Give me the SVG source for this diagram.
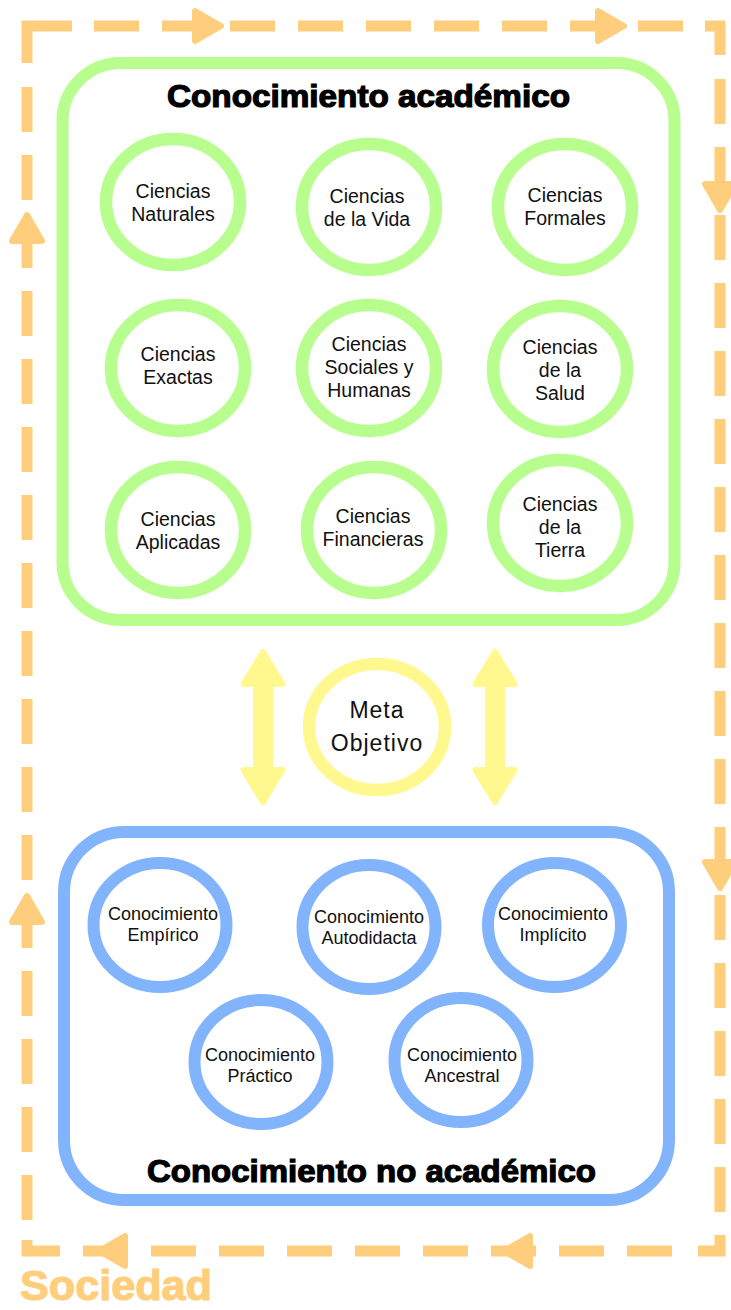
<svg xmlns="http://www.w3.org/2000/svg" xmlns:xlink="http://www.w3.org/1999/xlink" width="731" height="1310" viewBox="0 0 731 1310">
  <style>
    .bg{fill:#ffffff}
    .gbox{fill:none;stroke:#B7FE8F;stroke-width:12}
    .bbox{fill:none;stroke:#82B4FE;stroke-width:12}
    .gc{fill:#ffffff;stroke:#B7FE8F;stroke-width:12.5}
    .bc{fill:#ffffff;stroke:#82B4FE;stroke-width:12}
    .yc{fill:#ffffff;stroke:#FFF88E;stroke-width:12.5}
    .dash{fill:none;stroke:#FFCE7C;stroke-width:11;stroke-dasharray:45 23}
    .corner{fill:none;stroke:#FFCE7C;stroke-width:11;stroke-linejoin:miter}
    .yarrow{fill:#FFF88E;stroke:#FFF88E;stroke-width:6;stroke-linejoin:round}
    .lbl{font-family:"Liberation Sans",Arial,sans-serif;font-size:19.5px;fill:#111111;text-anchor:middle}
    .blbl{font-family:"Liberation Sans",Arial,sans-serif;font-size:18px;fill:#111111;text-anchor:middle}
    .meta{font-family:"Liberation Sans",Arial,sans-serif;font-size:23px;fill:#111111;text-anchor:middle;letter-spacing:1px}
    .title{font-family:"Liberation Sans",Arial,sans-serif;font-weight:bold;font-size:31px;fill:#000000;stroke:#000000;stroke-width:1.2;text-anchor:middle}
    .soc{font-family:"Liberation Sans",Arial,sans-serif;font-weight:bold;font-size:43px;fill:#FFCE7C;stroke:#FFCE7C;stroke-width:1.2}
  </style>
  <defs>
    <path id="oh" d="M-29,-15 L-3,0 L-29,15 Z" fill="#FFCE7C" stroke="#FFCE7C" stroke-width="6" stroke-linejoin="round"/>
  </defs>
  <rect class="bg" x="0" y="0" width="731" height="1310"/>

  <g id="connectors">
    <path class="dash" d="M94,26 H683"/>
    <path class="dash" d="M720,79 V1212"/>
    <path class="dash" d="M672,1251 H83"/>
    <path class="dash" d="M27,87 V1220"/>
    <path class="corner" d="M27,63 V26 H72"/>
    <path class="corner" d="M705,26 H720 V55"/>
    <path class="corner" d="M720,1235 V1251 H698"/>
    <path class="corner" d="M60,1251 H27 V1240"/>
    <use xlink:href="#oh" href="#oh" transform="translate(224,26)"/>
    <use xlink:href="#oh" href="#oh" transform="translate(627,26)"/>
    <use xlink:href="#oh" href="#oh" transform="translate(720,213) rotate(90)"/>
    <use xlink:href="#oh" href="#oh" transform="translate(720,891) rotate(90)"/>
    <use xlink:href="#oh" href="#oh" transform="translate(501,1251) rotate(180)"/>
    <use xlink:href="#oh" href="#oh" transform="translate(96,1251) rotate(180)"/>
    <use xlink:href="#oh" href="#oh" transform="translate(27,893) rotate(-90)"/>
    <use xlink:href="#oh" href="#oh" transform="translate(27,212) rotate(-90)"/>
    <polygon class="yarrow" points="263,652 282.5,684 270,684 270,770 282.5,770 263,802 243.5,770 256,770 256,684 243.5,684"/>
    <polygon class="yarrow" points="495,652 514.5,684 502,684 502,770 514.5,770 495,802 475.5,770 488,770 488,684 475.5,684"/>
  </g>

  <g id="academico">
    <rect class="gbox" x="62.5" y="63" width="612" height="557" rx="58" ry="58"/>
    <text class="title" x="368.5" y="107" textLength="403" lengthAdjust="spacingAndGlyphs">Conocimiento académico</text>
  </g>

  <g id="n-naturales"><ellipse class="gc" cx="173" cy="202" rx="67" ry="63"/>
    <text class="lbl" x="173" y="198">Ciencias</text><text class="lbl" x="173" y="221">Naturales</text></g>
  <g id="n-vida"><ellipse class="gc" cx="369" cy="207" rx="67" ry="63"/>
    <text class="lbl" x="367" y="203">Ciencias</text><text class="lbl" x="367" y="226">de la Vida</text></g>
  <g id="n-formales"><ellipse class="gc" cx="565" cy="207" rx="67" ry="63"/>
    <text class="lbl" x="565" y="202">Ciencias</text><text class="lbl" x="565" y="225">Formales</text></g>

  <g id="n-exactas"><ellipse class="gc" cx="178" cy="368" rx="67" ry="63"/>
    <text class="lbl" x="178" y="361">Ciencias</text><text class="lbl" x="178" y="384">Exactas</text></g>
  <g id="n-sociales"><ellipse class="gc" cx="369" cy="368" rx="67" ry="63"/>
    <text class="lbl" x="369" y="351">Ciencias</text><text class="lbl" x="369" y="374">Sociales y</text><text class="lbl" x="369" y="397">Humanas</text></g>
  <g id="n-salud"><ellipse class="gc" cx="560" cy="369" rx="67" ry="63"/>
    <text class="lbl" x="560" y="354">Ciencias</text><text class="lbl" x="560" y="377">de la</text><text class="lbl" x="560" y="400">Salud</text></g>

  <g id="n-aplicadas"><ellipse class="gc" cx="178" cy="530" rx="67" ry="63"/>
    <text class="lbl" x="178" y="526">Ciencias</text><text class="lbl" x="178" y="549">Aplicadas</text></g>
  <g id="n-financieras"><ellipse class="gc" cx="374" cy="530" rx="67" ry="63"/>
    <text class="lbl" x="373" y="523">Ciencias</text><text class="lbl" x="373" y="546">Financieras</text></g>
  <g id="n-tierra"><ellipse class="gc" cx="560" cy="523" rx="67" ry="63"/>
    <text class="lbl" x="560" y="511">Ciencias</text><text class="lbl" x="560" y="534">de la</text><text class="lbl" x="560" y="557">Tierra</text></g>

  <g id="n-meta"><ellipse class="yc" cx="377" cy="727" rx="68" ry="63"/>
    <text class="meta" x="377" y="718">Meta</text><text class="meta" x="377" y="751">Objetivo</text></g>

  <g id="no-academico">
    <rect class="bbox" x="64" y="832" width="605" height="368" rx="60" ry="60"/>
    <text class="title" x="371.5" y="1182" textLength="449" lengthAdjust="spacingAndGlyphs">Conocimiento no académico</text>
  </g>

  <g id="n-empirico"><ellipse class="bc" cx="160" cy="925" rx="66.5" ry="62"/>
    <text class="blbl" x="163" y="920">Conocimiento</text><text class="blbl" x="163" y="941">Empírico</text></g>
  <g id="n-autodidacta"><ellipse class="bc" cx="369" cy="927" rx="66.5" ry="62"/>
    <text class="blbl" x="369" y="923">Conocimiento</text><text class="blbl" x="369" y="944">Autodidacta</text></g>
  <g id="n-implicito"><ellipse class="bc" cx="554.5" cy="925" rx="66.5" ry="62"/>
    <text class="blbl" x="553" y="920">Conocimiento</text><text class="blbl" x="553" y="941">Implícito</text></g>
  <g id="n-practico"><ellipse class="bc" cx="261" cy="1062" rx="66.5" ry="62"/>
    <text class="blbl" x="260" y="1061">Conocimiento</text><text class="blbl" x="260" y="1082">Práctico</text></g>
  <g id="n-ancestral"><ellipse class="bc" cx="461" cy="1060" rx="66.5" ry="62"/>
    <text class="blbl" x="462" y="1061">Conocimiento</text><text class="blbl" x="462" y="1082">Ancestral</text></g>

  <g id="sociedad">
    <text class="soc" x="20" y="1300" textLength="192" lengthAdjust="spacingAndGlyphs">Sociedad</text>
  </g>
</svg>
